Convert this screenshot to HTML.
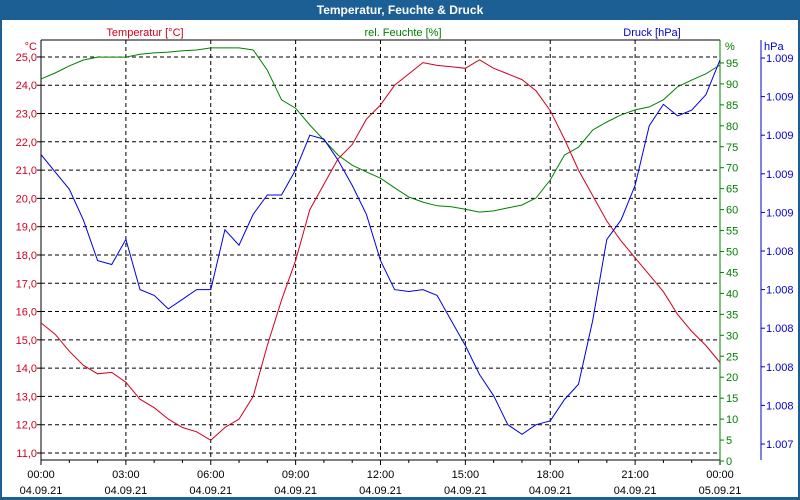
<!DOCTYPE html>
<html><head><meta charset="utf-8"><style>
body{margin:0;background:#fff}
svg{display:block;font-family:"Liberation Sans",sans-serif;font-size:11px}
</style></head><body>
<svg id="c" width="800" height="500" xmlns="http://www.w3.org/2000/svg">
<rect x="0" y="0" width="800" height="500" fill="#1c5f95"/>
<rect x="2" y="20" width="796" height="477" fill="#fff"/>
<text x="400" y="14" fill="#fff" font-weight="bold" font-size="12" text-anchor="middle">Temperatur, Feuchte &amp; Druck</text>
<text x="145" y="36" fill="#d00020" text-anchor="middle">Temperatur [°C]</text>
<text x="403" y="36" fill="#008000" text-anchor="middle">rel. Feuchte [%]</text>
<text x="652" y="36" fill="#0000d0" text-anchor="middle">Druck [hPa]</text>
<text x="37" y="50" fill="#d00020" text-anchor="end">°C</text>
<text x="725" y="50" fill="#008000">%</text>
<text x="764" y="50" fill="#0000d0">hPa</text>
<g id="g"></g>
</svg>
<script>
const hours=[];for(let i=0;i<=48;i++)hours.push(i*0.5);
const temp=[15.6,15.2,14.6,14.1,13.8,13.85,13.5,12.9,12.6,12.2,11.9,11.75,11.45,11.9,12.2,13.0,14.8,16.4,17.8,19.6,20.5,21.4,21.9,22.8,23.3,24.0,24.4,24.8,24.7,24.65,24.6,24.9,24.6,24.4,24.2,23.8,23.1,22.1,21.0,20.1,19.2,18.5,17.9,17.3,16.7,15.9,15.3,14.8,14.2];
const hum=[91.2,92.6,94.3,95.7,96.4,96.4,96.4,97.1,97.4,97.6,97.9,98.1,98.6,98.6,98.6,98.1,93.3,86.2,84.2,80.2,76.6,73.0,70.6,69.0,67.5,65.2,63.0,61.8,60.9,60.7,60.1,59.4,59.7,60.4,61.1,62.8,67.1,73.0,74.9,79.0,80.9,82.6,83.8,84.5,86.2,89.3,90.9,92.4,94.5];
const press=[1008.90,1008.81,1008.72,1008.56,1008.35,1008.33,1008.46,1008.20,1008.17,1008.10,1008.15,1008.20,1008.20,1008.51,1008.43,1008.59,1008.69,1008.69,1008.82,1009.00,1008.98,1008.87,1008.74,1008.59,1008.35,1008.20,1008.19,1008.20,1008.17,1008.04,1007.91,1007.76,1007.65,1007.50,1007.45,1007.50,1007.52,1007.63,1007.71,1008.04,1008.46,1008.56,1008.74,1009.05,1009.16,1009.10,1009.13,1009.21,1009.39];
const tempTicks=[11,12,13,14,15,16,17,18,19,20,21,22,23,24,25];
const humTicks=[0,5,10,15,20,25,30,35,40,45,50,55,60,65,70,75,80,85,90,95];
const pressTicks=[1007.4,1007.6,1007.8,1008.0,1008.2,1008.4,1008.6,1008.8,1009.0,1009.2,1009.4];
const pressLabels=["1.007","1.008","1.008","1.008","1.008","1.008","1.009","1.009","1.009","1.009","1.009"];
const timeTicks=[0,3,6,9,12,15,18,21,24];
const timeLabels=["00:00","03:00","06:00","09:00","12:00","15:00","18:00","21:00","00:00"];
const dateLabels=["04.09.21","04.09.21","04.09.21","04.09.21","04.09.21","04.09.21","04.09.21","04.09.21","05.09.21"];

const L=41,R=720,T=40,B=460;
const xs=h=>L+h*(R-L)/24;
const yT=v=>453-(v-11)*28.29;
const yH=v=>461-v*4.19;
const yP=v=>444-(v-1007.4)*193;
const g=document.getElementById('g');const NS='http://www.w3.org/2000/svg';
function el(t,a,txt){const e=document.createElementNS(NS,t);for(const k in a)e.setAttribute(k,a[k]);if(txt!=null)e.textContent=txt;g.appendChild(e);return e;}
tempTicks.forEach(v=>{const y=yT(v);
 const l=el('line',{x1:L,x2:R,y1:y,y2:y,stroke:'#000','stroke-dasharray':'4,3'});
 
 
 const t=el('text',{x:37,y:y+4,fill:'#d00020','text-anchor':'end'},v.toFixed(1).replace('.',','));
 
 
 const k=el('line',{x1:L-4,x2:L,y1:y,y2:y,stroke:'#000'});
 
 
});
timeTicks.forEach((h,i)=>{const x=xs(h);
 if(i>0&&i<timeTicks.length-1){const l=el('line',{x1:x,x2:x,y1:T,y2:B,stroke:'#000','stroke-dasharray':'4,3'});
 
 }
 const t=el('text',{x:x,y:478,fill:'#000','text-anchor':'middle'},timeLabels[i]);
 
 
 const d=el('text',{x:x,y:494,fill:'#000','text-anchor':'middle'},dateLabels[i]);
 
 
});
for(let h=0;h<=24;h++){const x=xs(h);const k=el('line',{x1:x,x2:x,y1:B,y2:B+(h%3?3:5),stroke:'#000'});
 
 }
humTicks.forEach(v=>{const y=yH(v);
 const k=el('line',{x1:R,x2:R+4,y1:y,y2:y,stroke:'#008000'});
 
 
 const t=el('text',{x:726,y:y+4,fill:'#008000'},String(v));
 
 
});
pressTicks.forEach((v,i)=>{const y=yP(v);
 const k=el('line',{x1:761,x2:765,y1:y,y2:y,stroke:'#0000d0'});
 
 
 const t=el('text',{x:766,y:y+4,fill:'#0000d0'},pressLabels[i]);
 
 
});
const ax=[[L,T,R,T,'#000','top-border'],[L,T,L,B,'#000','temperature-axis'],[L,B,R,B,'#000','time-axis'],[R,T,R,B+1,'#008000','humidity-axis'],[761,T,761,B,'#0000d0','pressure-axis']];
ax.forEach(a=>{const l=el('line',{x1:a[0],y1:a[1],x2:a[2],y2:a[3],stroke:a[4]});
 
 });
function series(vals,yf,col,name){const p=el('polyline',{points:vals.map((v,i)=>xs(hours[i]).toFixed(1)+','+yf(v).toFixed(1)).join(' '),fill:'none',stroke:col,'stroke-width':1});
 
 }
series(hum,yH,'#008000','humidity-line');
series(temp,yT,'#d00020','temperature-line');
series(press,yP,'#0000e0','pressure-line');
</script>
</body></html>
